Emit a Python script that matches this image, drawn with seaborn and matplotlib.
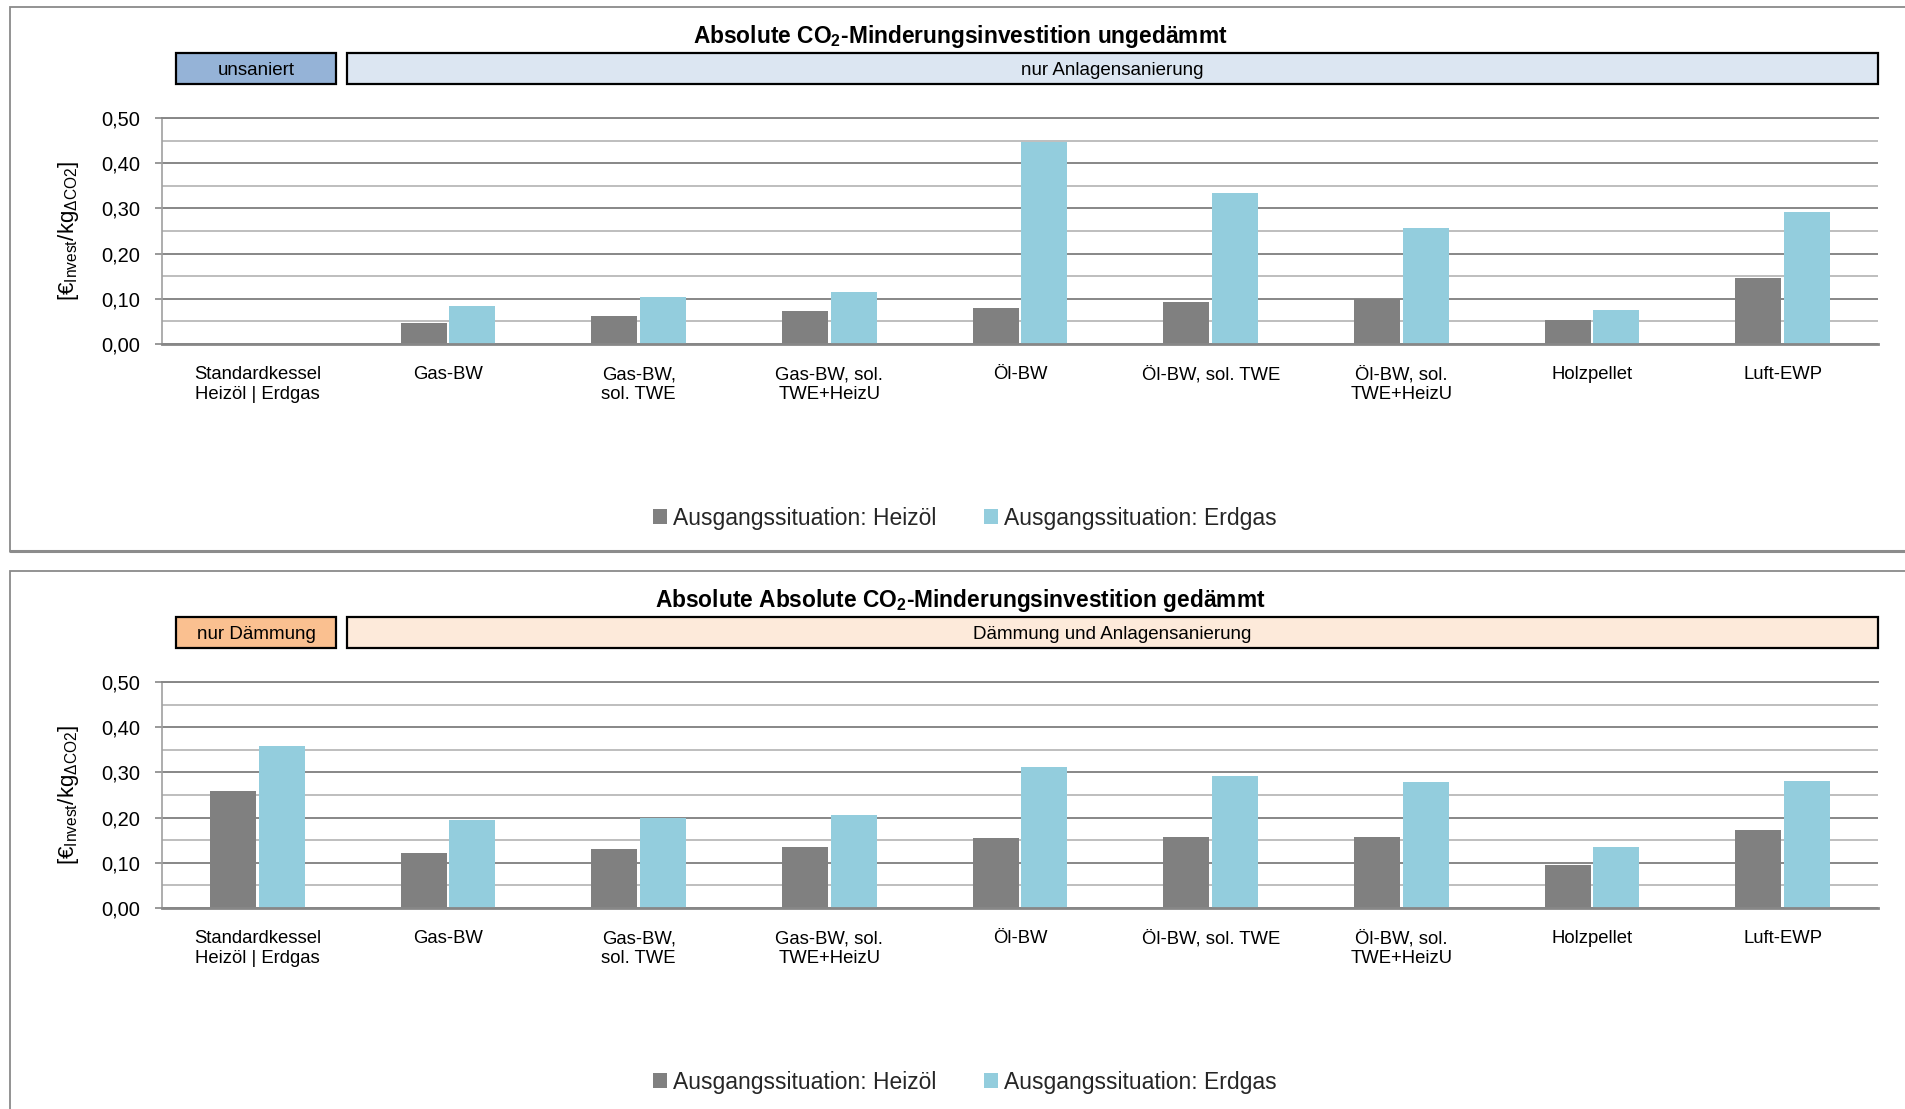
import numpy as np
import pandas as pd
import matplotlib
matplotlib.use("Agg")
import matplotlib.pyplot as plt
from matplotlib.patches import Rectangle, Patch
from matplotlib.lines import Line2D
import seaborn as sns

# ---------------------------------------------------------------- data
categories = [
    "Standardkessel\nHeizöl | Erdgas",
    "Gas-BW",
    "Gas-BW,\nsol. TWE",
    "Gas-BW, sol.\nTWE+HeizU",
    "Öl-BW",
    "Öl-BW, sol. TWE",
    "Öl-BW, sol.\nTWE+HeizU",
    "Holzpellet",
    "Luft-EWP",
]
series_names = ["Ausgangssituation: Heizöl", "Ausgangssituation: Erdgas"]

ungedaemmt_heizoel = [0.0, 0.046, 0.061, 0.072, 0.080, 0.094, 0.099, 0.054, 0.145]
ungedaemmt_erdgas = [0.0, 0.085, 0.103, 0.114, 0.446, 0.333, 0.256, 0.076, 0.293]
gedaemmt_heizoel = [0.258, 0.121, 0.130, 0.136, 0.154, 0.156, 0.158, 0.096, 0.172]
gedaemmt_erdgas = [0.358, 0.194, 0.200, 0.205, 0.311, 0.291, 0.278, 0.134, 0.282]

y_ticks = [0.0, 0.1, 0.2, 0.3, 0.4, 0.5]
y_tick_labels = ["0,00", "0,10", "0,20", "0,30", "0,40", "0,50"]
y_minor = [0.05, 0.15, 0.25, 0.35, 0.45]

title_top = r"Absolute CO$_\mathregular{2}$-Minderungsinvestition ungedämmt"
title_bottom = r"Absolute Absolute CO$_\mathregular{2}$-Minderungsinvestition gedämmt"
header_top = ["unsaniert", "nur Anlagensanierung"]
header_bottom = ["nur Dämmung", "Dämmung und Anlagensanierung"]
y_label = r"[€$_\mathregular{Invest}$/kg$_\mathregular{ΔCO2}$]"

# ---------------------------------------------------------------- style
sns.set_theme(style="white")
plt.rcParams["font.family"] = ["Liberation Sans", "DejaVu Sans"]
plt.rcParams["mathtext.fontset"] = "custom"
plt.rcParams["mathtext.rm"] = "Liberation Sans"

bar_colors = ["#808080", "#93CDDD"]
header_colors_top = ["#95B3D7", "#DCE6F2"]
header_colors_bottom = ["#FAC090", "#FDEADA"]

W, H = 1906, 1109
fig = plt.figure(figsize=(W / 100, H / 100), dpi=100)
fig.patch.set_facecolor("white")


def fx(x):
    return x / W


def fy(y):
    return 1 - y / H


def frame(x0, y0, x1, y1, **kw):
    r = Rectangle((fx(x0), fy(y1)), fx(x1) - fx(x0), fy(y0) - fy(y1),
                  transform=fig.transFigure, clip_on=False, **kw)
    fig.add_artist(r)
    return r


def draw_panel(top, bottom, heizoel, erdgas, title, headers, header_colors):
    # outer panel frame
    frame(10, top, W + 20, bottom, fill=False, edgecolor="#8A8A8A", lw=1.3)

    # title
    fig.text(fx(960), fy(top + 30), title, ha="center", va="center",
             fontsize=16.4, fontweight="bold", color="black")

    # header boxes
    hy0, hy1 = top + 46.5, top + 77
    boxes = [(176, 336), (346.5, 1878)]
    for (bx0, bx1), lab, col in zip(boxes, headers, header_colors):
        frame(bx0, hy0, bx1, hy1, facecolor=col, edgecolor="black", lw=1.6)
        fig.text(fx((bx0 + bx1) / 2), fy((hy0 + hy1) / 2 + 2), lab,
                 ha="center", va="center", fontsize=13.5, color="black")

    # bar axes
    ax_top, ax_bot = top + 111, top + 337
    ax = fig.add_axes([fx(162), fy(ax_bot), fx(1878) - fx(162),
                       fy(ax_top) - fy(ax_bot)])
    df = pd.DataFrame({
        "Kategorie": categories * 2,
        "Serie": [series_names[0]] * len(categories) + [series_names[1]] * len(categories),
        "Wert": list(heizoel) + list(erdgas),
    })
    sns.barplot(data=df, x="Kategorie", y="Wert", hue="Serie",
                order=categories, hue_order=series_names,
                palette=bar_colors, saturation=1, width=0.51, gap=0.05,
                linewidth=0, legend=False, ax=ax)
    ax.set_xlim(-0.5, len(categories) - 0.5)
    ax.set_ylim(0, 0.5)
    ax.set_yticks(y_ticks)
    ax.set_yticklabels(y_tick_labels)
    ax.set_yticks(y_minor, minor=True)
    ax.set_axisbelow(True)
    ax.grid(which="major", axis="y", color="#878787", lw=1.4)
    ax.grid(which="minor", axis="y", color="#BEBEBE", lw=1.4)
    ax.grid(which="major", axis="x", visible=False)
    ax.set_xlabel("")
    ax.set_ylabel("")
    ax.spines["right"].set_visible(False)
    ax.spines["top"].set_color("#878787")
    ax.spines["top"].set_linewidth(1.4)
    ax.spines["bottom"].set_color("#878787")
    ax.spines["bottom"].set_linewidth(2.0)
    ax.spines["left"].set_color("#A0A0A0")
    ax.spines["left"].set_linewidth(1.2)
    ax.tick_params(axis="y", which="major", length=5, width=1.2, color="#878787",
                   pad=11, labelsize=14.5, labelcolor="black", left=True)
    ax.tick_params(axis="y", which="minor", length=0)
    ax.tick_params(axis="x", length=0, pad=16, labelsize=13.3, labelcolor="black")
    for t in ax.get_xticklabels():
        t.set_multialignment("center")
    ax.set_facecolor("white")

    # y-axis label
    fig.text(fx(69), fy((ax_top + ax_bot) / 2), y_label, rotation=90,
             ha="center", va="center", fontsize=16, color="black")

    # legend
    handles = [Patch(facecolor=c, edgecolor="none") for c in bar_colors]
    fig.legend(handles, series_names, loc="center", ncol=2,
               bbox_to_anchor=(fx(965), fy(top + 511)), frameon=False,
               fontsize=16.5, handlelength=0.6, handleheight=0.6,
               handletextpad=0.25, columnspacing=2.1, borderpad=0)
    return ax


draw_panel(7, 551, ungedaemmt_heizoel, ungedaemmt_erdgas, title_top,
           header_top, header_colors_top)
# heavy lower edge of the first panel
fig.add_artist(Line2D([fx(10), 1.0], [fy(551), fy(551)], color="#8C8C8C",
                      lw=2.2, transform=fig.transFigure))
draw_panel(571, H + 20, gedaemmt_heizoel, gedaemmt_erdgas, title_bottom,
           header_bottom, header_colors_bottom)

fig.savefig("out.png", dpi=100, facecolor="white")
